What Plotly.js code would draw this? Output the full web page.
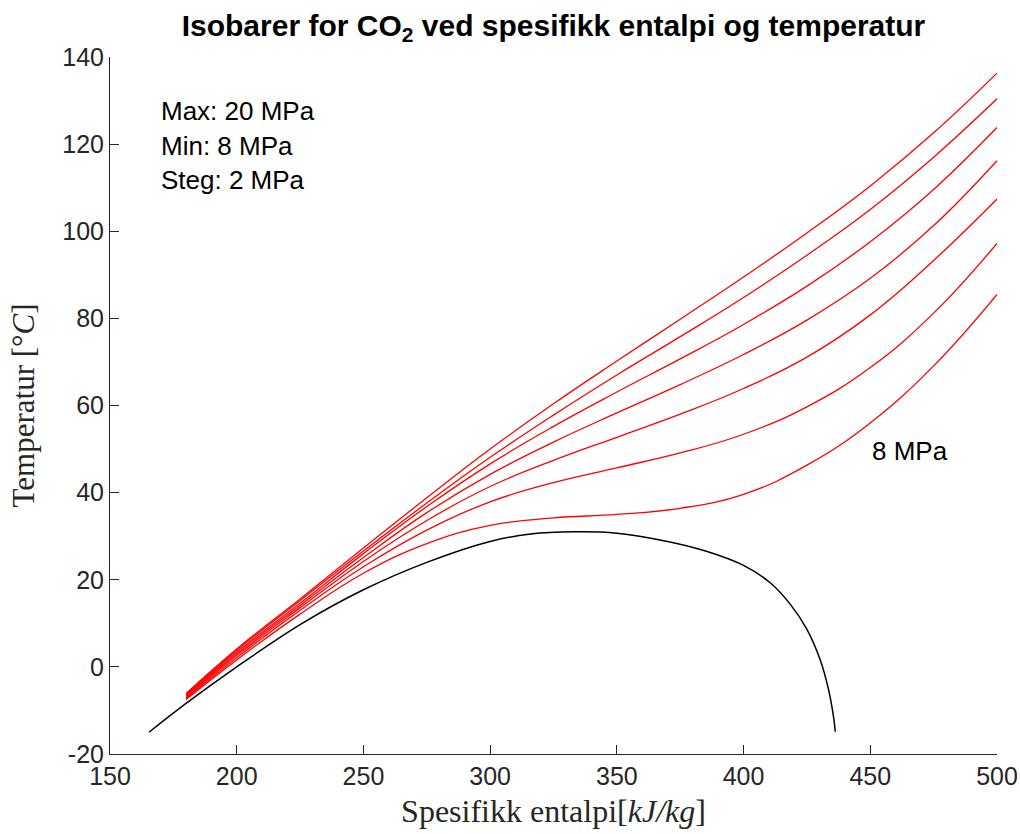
<!DOCTYPE html>
<html>
<head>
<meta charset="utf-8">
<script src="https://cdn.plot.ly/plotly-3.0.1.min.js"></script>
<style>html,body{margin:0;padding:0;background:#fff;} #chart{width:1020px;height:834px;}</style>
</head>
<body>
<div id="chart"></div>
<script>
// Enthalpy grid for the isobars [kJ/kg]
const enthalpy = [180, 200, 225, 250, 275, 300, 325, 350, 375, 400, 425, 450, 475, 500];
// Temperatures [°C] along each isobar
const p8MPa  = [-7.5, 1.6, 12.1, 21.5, 28.3, 32.5, 34.2, 35.0, 36.4, 39.6, 46.3, 56.0, 69.1, 85.5];
const p10MPa = [-7.3, 2.1, 13.0, 23.0, 31.4, 37.9, 42.3, 45.7, 49.1, 53.4, 59.7, 68.7, 81.2, 97.2];
const p12MPa = [-7.1, 2.6, 13.6, 24.2, 33.6, 41.4, 47.4, 52.7, 58.0, 63.9, 71.1, 80.8, 93.3, 107.4];
const p14MPa = [-6.8, 3.0, 14.1, 25.1, 35.4, 44.2, 51.6, 58.3, 64.8, 71.7, 79.6, 89.2, 101.3, 116.2];
const p16MPa = [-6.6, 3.4, 14.6, 26.0, 36.8, 46.6, 55.2, 63.1, 70.7, 78.6, 87.4, 97.6, 109.6, 123.8];
const p18MPa = [-6.4, 3.8, 15.2, 26.6, 37.6, 48.1, 57.8, 67.0, 75.8, 84.8, 94.5, 105.0, 117.0, 130.4];
const p20MPa = [-6.1, 4.1, 15.6, 27.3, 38.8, 50.0, 60.4, 70.2, 79.8, 89.5, 99.6, 110.4, 122.6, 136.3];
const isobars = [p8MPa, p10MPa, p12MPa, p14MPa, p16MPa, p18MPa, p20MPa];
const pressureNames = ["8 MPa", "10 MPa", "12 MPa", "14 MPa", "16 MPa", "18 MPa", "20 MPa"];

// Saturation curve (liquid -> critical point -> vapour)
const domeH = [165.4, 180, 200, 225, 250, 275, 300, 316, 333, 350, 370, 385, 400, 410.5, 418.4, 425, 430.3, 433.6, 435.5, 436.2];
const domeT = [-15, -8.4, 0, 9.7, 17.7, 24.0, 28.8, 30.5, 31.0, 30.7, 28.8, 26.6, 23.3, 19.3, 14.4, 8.6, 1.5, -5.4, -11.5, -14.9];

// Axis ticks
const xTicks = [150, 200, 250, 300, 350, 400, 450, 500];
const yTicks = [-20, 0, 20, 40, 60, 80, 100, 120, 140];
const yTickText = ["-20", "0", "20", "40", "60", "80", "100", "120", "140"];

const infoLines = ["Max: 20 MPa", "Min: 8 MPa", "Steg: 2 MPa"];

const traces = [];
isobars.forEach((T, i) => {
  traces.push({
    x: enthalpy, y: T, type: 'scatter', mode: 'lines', name: pressureNames[i],
    line: {color: '#ff0000', width: 1.3, shape: 'spline', smoothing: 1.2},
    hoverinfo: 'skip'
  });
});
traces.push({
  x: domeH, y: domeT, type: 'scatter', mode: 'lines', name: 'Metningskurve',
  line: {color: '#000000', width: 1.5, shape: 'spline', smoothing: 1.0},
  hoverinfo: 'skip'
});

const sans = 'Liberation Sans, Arial, sans-serif';
const serif = 'Liberation Serif, Times New Roman, serif';
const axisCol = '#262626';

const annotations = infoLines.map((t, i) => ({
  x: 169.5, y: 127.5 - i * 7.9, xref: 'x', yref: 'y', text: t, showarrow: false,
  xanchor: 'left', yanchor: 'middle', font: {family: sans, size: 26, color: '#000'}
}));
annotations.push({
  x: 450, y: 49.5, xref: 'x', yref: 'y', text: '8 MPa', showarrow: false,
  xanchor: 'left', yanchor: 'middle', font: {family: sans, size: 26, color: '#000'}
});

const layout = {
  width: 1020, height: 834,
  margin: {l: 110, r: 23, t: 57, b: 80},
  paper_bgcolor: '#fff', plot_bgcolor: '#fff',
  showlegend: false,
  title: {
    text: '<b>Isobarer for CO<sub>2</sub> ved spesifikk entalpi og temperatur</b>',
    font: {family: sans, size: 30, color: '#000'},
    x: 0.5, xanchor: 'center', y: 0.97, yanchor: 'middle', xref: 'paper', yref: 'container'
  },
  xaxis: {
    range: [150, 500], tickvals: xTicks, ticktext: xTicks.map(String),
    showgrid: false, zeroline: false, showline: true, linecolor: axisCol, linewidth: 1,
    ticks: 'inside', ticklen: 9, tickcolor: axisCol, tickwidth: 1,
    tickfont: {family: sans, size: 25, color: axisCol},
    title: {text: 'Spesifikk entalpi[<i>kJ/kg</i>]', font: {family: serif, size: 32, color: axisCol}, standoff: 10},
    automargin: false, mirror: false
  },
  yaxis: {
    range: [-20, 140], tickvals: yTicks, ticktext: yTickText,
    showgrid: false, zeroline: false, showline: true, linecolor: axisCol, linewidth: 1,
    ticks: 'inside', ticklen: 9, tickcolor: axisCol, tickwidth: 1,
    tickfont: {family: sans, size: 25, color: axisCol},
    title: {text: 'Temperatur [°<i>C</i>]', font: {family: serif, size: 31, color: axisCol}, standoff: 18},
    automargin: false, mirror: false
  },
  annotations: annotations
};

Plotly.newPlot('chart', traces, layout, {staticPlot: true, displayModeBar: false});
</script>
</body>
</html>
